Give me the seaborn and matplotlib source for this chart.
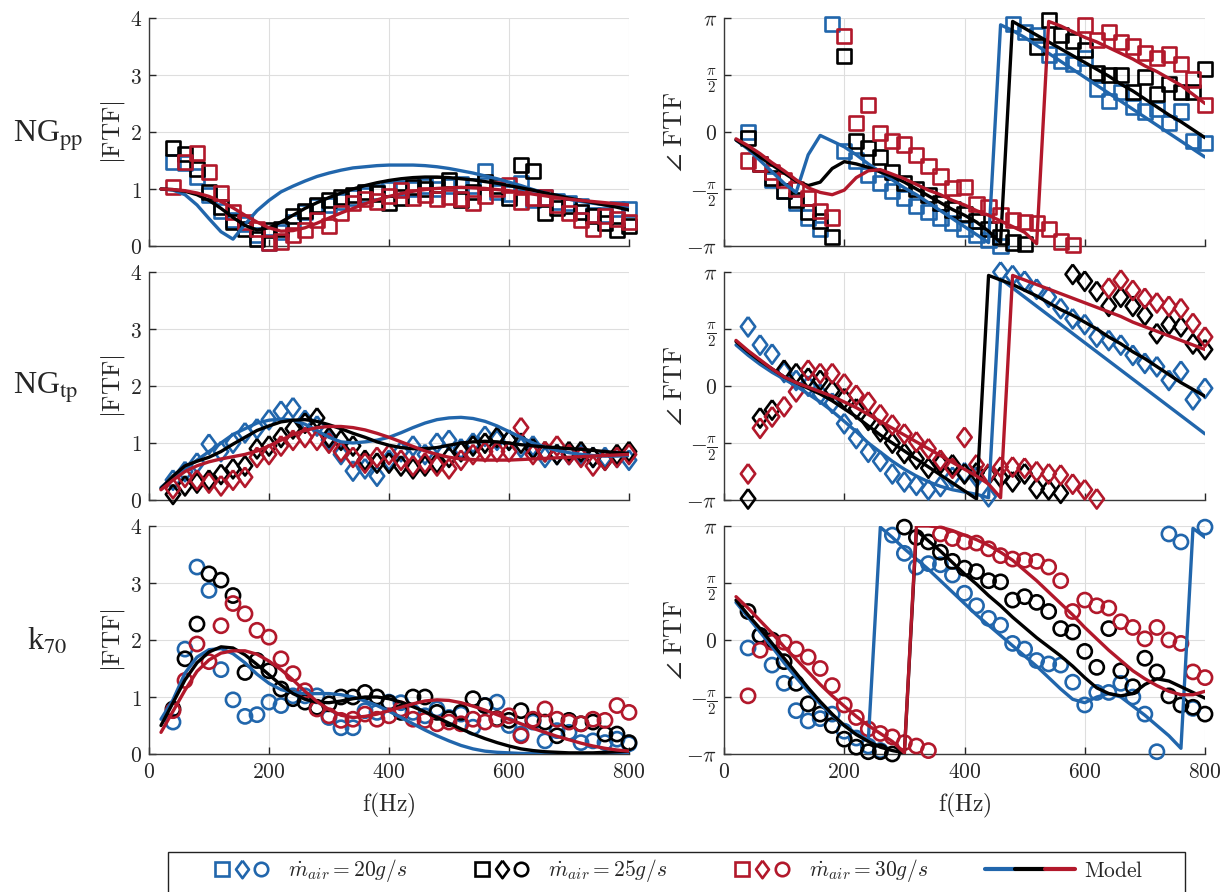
import numpy as np
import matplotlib
matplotlib.use("Agg")
import matplotlib.pyplot as plt
import seaborn as sns
from matplotlib.lines import Line2D
from matplotlib.patches import Rectangle
from matplotlib.legend_handler import HandlerTuple

# ---------------- data ----------------
FREQ_DATA = [40, 60, 80, 100, 120, 140, 160, 180, 200, 220,
             240, 260, 280, 300, 320, 340, 360, 380, 400, 420,
             440, 460, 480, 500, 520, 540, 560, 580, 600, 620,
             640, 660, 680, 700, 720, 740, 760, 780, 800]
FREQ_MODEL = [20, 40, 60, 80, 100, 120, 140, 160, 180, 200,
              220, 240, 260, 280, 300, 320, 340, 360, 380, 400,
              420, 440, 460, 480, 500, 520, 540, 560, 580, 600,
              620, 640, 660, 680, 700, 720, 740, 760, 780, 800]

ROW_LABELS = ["NG$_{\\mathrm{pp}}$", "NG$_{\\mathrm{tp}}$", "k$_{70}$"]
LEGEND_LABELS = [r"$\dot{m}_{air}=20g/s$", r"$\dot{m}_{air}=25g/s$",
                 r"$\dot{m}_{air}=30g/s$"]
MODEL_LABEL = r"$\mathrm{Model}$"
X_TICKS = [0, 200, 400, 600, 800]
MAG_TICKS = [0, 1, 2, 3, 4]
PHASE_TICK_FRAC = [-1, -0.5, 0, 0.5, 1]
PHASE_TICK_LABELS = [r"$-\pi$", r"$-\frac{\pi}{2}$", r"$0$", r"$\frac{\pi}{2}$", r"$\pi$"]

# NG_pp magnitude (squares)
pp_mag_20 = [1.47, 1.45, 1.22, 0.90, 0.62, 0.45, 0.38, 0.20, 0.06, 0.25,
             0.42, 0.60, 0.70, 0.72, 0.78, 0.85, 0.90, 0.95, 1.00, 1.02,
             1.00, 1.05, 1.00, 1.05, 1.08, 1.05, 1.32, 0.95, 0.92, 1.10,
             0.80, 0.85, 0.78, 0.75, 0.70, 0.55, 0.55, 0.65, 0.65]
pp_mag_25 = [1.72, 1.62, 1.35, 0.95, 0.68, 0.42, 0.30, 0.12, 0.28, 0.30,
             0.52, 0.62, 0.72, 0.80, 0.86, 0.90, 0.95, 0.92, 0.75, 0.85,
             1.04, 1.00, 1.08, 1.16, 0.80, 0.95, 1.13, 1.05, 0.84, 1.42,
             1.32, 0.58, 0.66, 0.70, 0.60, 0.52, 0.40, 0.28, 0.35]
pp_mag_30 = [1.04, 1.48, 1.63, 1.30, 0.93, 0.60, 0.42, 0.30, 0.05, 0.08,
             0.20, 0.28, 0.45, 0.35, 0.58, 0.75, 0.82, 0.78, 0.88, 0.98,
             0.85, 0.90, 0.82, 0.86, 0.83, 0.75, 0.88, 1.00, 1.07, 0.78,
             0.85, 0.85, 0.72, 0.58, 0.45, 0.30, 0.52, 0.48, 0.42]
pp_mag_model_20 = [1.00, 0.98, 0.90, 0.72, 0.48, 0.25, 0.12, 0.38, 0.62, 0.80,
                   0.95, 1.05, 1.14, 1.22, 1.28, 1.33, 1.37, 1.39, 1.41, 1.42,
                   1.42, 1.42, 1.41, 1.39, 1.36, 1.32, 1.28, 1.23, 1.18, 1.12,
                   1.06, 0.99, 0.93, 0.87, 0.82, 0.78, 0.75, 0.72, 0.70, 0.68]
pp_mag_model_25 = [1.00, 0.99, 0.96, 0.90, 0.80, 0.66, 0.50, 0.36, 0.28, 0.32,
                   0.42, 0.54, 0.66, 0.76, 0.85, 0.93, 1.00, 1.06, 1.11, 1.15,
                   1.18, 1.20, 1.21, 1.21, 1.20, 1.18, 1.16, 1.13, 1.10, 1.06,
                   1.02, 0.98, 0.93, 0.89, 0.84, 0.80, 0.76, 0.72, 0.68, 0.63]
pp_mag_model_30 = [1.00, 0.99, 0.97, 0.93, 0.87, 0.78, 0.67, 0.54, 0.42, 0.32,
                   0.26, 0.27, 0.32, 0.40, 0.49, 0.58, 0.66, 0.74, 0.81, 0.87,
                   0.92, 0.96, 0.99, 1.01, 1.02, 1.03, 1.02, 1.01, 0.99, 0.97,
                   0.94, 0.91, 0.88, 0.85, 0.82, 0.80, 0.78, 0.76, 0.74, 0.72]

# NG_pp phase (fractions of pi)
pp_ph_20 = [0.00, -0.28, -0.42, -0.52, -0.62, -0.75, -0.85, 0.95, -0.17, -0.25,
            -0.38, -0.45, -0.52, -0.58, -0.65, -0.70, -0.75, -0.80, -0.85, -0.90,
            -0.95, -1.00, 0.95, 0.88, 0.85, 0.68, 0.62, 0.60, 0.65, 0.38,
            0.27, 0.35, 0.22, 0.18, 0.20, 0.08, 0.18, -0.08, -0.10]
pp_ph_25 = [-0.05, -0.28, -0.40, -0.52, -0.60, -0.70, -0.78, -0.92, 0.67, -0.08,
            -0.14, -0.22, -0.35, -0.45, -0.50, -0.55, -0.62, -0.68, -0.72, -0.78,
            -0.85, -0.92, -0.97, -0.98, 0.75, 0.98, 0.85, 0.80, 0.72, 0.52,
            0.50, 0.50, 0.35, 0.48, 0.33, 0.42, 0.35, 0.35, 0.55]
pp_ph_30 = [-0.25, -0.28, -0.35, -0.42, -0.50, -0.58, -0.69, -0.75, 0.84, 0.08,
            0.24, -0.01, -0.08, -0.11, -0.20, -0.30, -0.39, -0.49, -0.48, -0.63,
            -0.66, -0.73, -0.77, -0.79, -0.80, -0.85, -0.96, -0.99, 0.94, 0.81,
            0.88, 0.79, 0.75, 0.69, 0.65, 0.68, 0.60, 0.46, 0.24]
pp_ph_model_20 = [-0.07, -0.15, -0.25, -0.35, -0.45, -0.53, -0.20, -0.03, -0.08, -0.13,
                  -0.20, -0.28, -0.35, -0.42, -0.49, -0.55, -0.62, -0.69, -0.76, -0.83,
                  -0.90, -0.97, 0.94, 0.89, 0.83, 0.76, 0.69, 0.62, 0.55, 0.48,
                  0.41, 0.34, 0.27, 0.20, 0.13, 0.06, -0.01, -0.08, -0.15, -0.22]
pp_ph_model_25 = [-0.07, -0.14, -0.22, -0.29, -0.36, -0.43, -0.47, -0.44, -0.32, -0.26,
                  -0.28, -0.31, -0.35, -0.39, -0.44, -0.50, -0.56, -0.62, -0.68, -0.73,
                  -0.79, -0.87, -0.97, 0.97, 0.91, 0.85, 0.79, 0.73, 0.67, 0.61,
                  0.55, 0.49, 0.42, 0.36, 0.29, 0.22, 0.15, 0.09, 0.02, -0.05]
pp_ph_model_30 = [-0.06, -0.12, -0.19, -0.27, -0.34, -0.42, -0.49, -0.53, -0.55, -0.51,
                  -0.40, -0.34, -0.33, -0.37, -0.41, -0.46, -0.51, -0.55, -0.60, -0.64,
                  -0.69, -0.73, -0.78, -0.83, -0.88, -0.98, 0.97, 0.93, 0.88, 0.83,
                  0.79, 0.74, 0.69, 0.64, 0.58, 0.53, 0.47, 0.41, 0.33, 0.25]

# NG_tp magnitude (diamonds)
tp_mag_20 = [0.35, 0.50, 0.65, 0.98, 0.85, 1.00, 1.18, 1.25, 1.41, 1.56,
             1.62, 1.40, 1.30, 1.05, 0.80, 0.51, 0.55, 0.42, 0.70, 0.85,
             0.95, 0.80, 1.00, 1.05, 0.90, 1.00, 1.12, 1.05, 1.05, 0.92,
             0.95, 0.75, 0.80, 0.80, 0.80, 0.75, 0.75, 0.75, 0.70]
tp_mag_25 = [0.10, 0.25, 0.30, 0.35, 0.45, 0.55, 0.60, 0.90, 0.95, 1.10,
             1.25, 1.35, 1.44, 1.10, 1.05, 0.95, 0.70, 0.65, 0.65, 0.60,
             0.55, 0.60, 0.65, 0.75, 0.85, 0.95, 1.00, 1.10, 1.05, 1.00,
             0.90, 0.85, 0.80, 0.85, 0.85, 0.75, 0.70, 0.80, 0.85]
tp_mag_30 = [0.20, 0.40, 0.35, 0.30, 0.25, 0.35, 0.40, 0.75, 0.80, 0.95,
             1.05, 1.10, 1.05, 1.00, 0.85, 0.75, 0.65, 0.75, 0.80, 0.70,
             0.60, 0.65, 0.60, 0.55, 0.70, 0.80, 0.85, 0.85, 0.85, 1.27,
             0.80, 0.85, 0.95, 0.80, 0.75, 0.60, 0.70, 0.75, 0.80]
tp_mag_model_20 = [0.22, 0.40, 0.55, 0.70, 0.85, 1.00, 1.15, 1.25, 1.35, 1.40,
                   1.42, 1.40, 1.33, 1.22, 1.10, 1.02, 1.00, 1.02, 1.05, 1.10,
                   1.18, 1.27, 1.35, 1.41, 1.44, 1.45, 1.43, 1.38, 1.30, 1.20,
                   1.10, 1.00, 0.93, 0.87, 0.83, 0.80, 0.78, 0.77, 0.77, 0.78]
tp_mag_model_25 = [0.20, 0.42, 0.60, 0.68, 0.75, 0.85, 0.98, 1.10, 1.22, 1.30,
                   1.37, 1.40, 1.41, 1.38, 1.32, 1.25, 1.17, 1.10, 1.02, 0.96,
                   0.92, 0.90, 0.90, 0.92, 0.96, 1.00, 1.02, 1.03, 1.02, 1.00,
                   0.97, 0.95, 0.93, 0.92, 0.90, 0.89, 0.87, 0.85, 0.83, 0.82]
tp_mag_model_30 = [0.18, 0.35, 0.50, 0.60, 0.67, 0.72, 0.76, 0.80, 0.86, 0.95,
                   1.05, 1.15, 1.22, 1.27, 1.29, 1.29, 1.27, 1.23, 1.17, 1.10,
                   1.02, 0.94, 0.86, 0.80, 0.75, 0.72, 0.71, 0.70, 0.70, 0.70,
                   0.71, 0.72, 0.73, 0.74, 0.75, 0.76, 0.77, 0.78, 0.79, 0.80]

# NG_tp phase (fractions of pi)
tp_ph_20 = [0.52, 0.36, 0.28, 0.12, 0.05, 0.00, -0.07, -0.15, -0.33, -0.46,
            -0.58, -0.66, -0.77, -0.84, -0.87, -0.91, -0.88, -0.80, -0.76, -0.80,
            -0.97, 1.00, 0.97, 0.92, 0.85, 0.78, 0.68, 0.59, 0.54, 0.43,
            0.40, 0.36, 0.27, 0.20, 0.17, 0.05, 0.13, -0.12, -0.02]
tp_ph_25 = [-0.99, -0.28, -0.21, 0.14, 0.11, 0.07, 0.05, -0.04, -0.11, -0.20,
            -0.30, -0.40, -0.50, -0.59, -0.64, -0.72, -0.68, -0.69, -0.77, -0.76,
            -0.78, -0.80, -0.84, -0.77, -0.90, -0.91, -0.94, 0.98, 0.92, 0.83,
            0.70, 0.78, 0.70, 0.62, 0.46, 0.54, 0.52, 0.37, 0.32]
tp_ph_30 = [-0.77, -0.37, -0.27, -0.18, -0.05, 0.14, 0.11, 0.11, 0.02, -0.08,
            -0.14, -0.25, -0.34, -0.42, -0.49, -0.55, -0.65, -0.72, -0.45, -0.69,
            -0.77, -0.71, -0.71, -0.72, -0.75, -0.77, -0.78, -0.86, -0.91, -0.99,
            0.86, 0.93, 0.84, 0.77, 0.73, 0.70, 0.68, 0.55, 0.43]
tp_ph_model_20 = [0.36, 0.27, 0.19, 0.12, 0.06, 0.00, -0.07, -0.14, -0.22, -0.31,
                  -0.40, -0.50, -0.58, -0.66, -0.73, -0.79, -0.84, -0.88, -0.91, -0.93,
                  -0.95, -0.98, 0.94, 0.86, 0.78, 0.70, 0.62, 0.54, 0.46, 0.38,
                  0.30, 0.22, 0.14, 0.06, -0.02, -0.10, -0.18, -0.26, -0.34, -0.42]
tp_ph_model_25 = [0.39, 0.30, 0.22, 0.15, 0.08, 0.03, -0.02, -0.07, -0.13, -0.20,
                  -0.27, -0.35, -0.43, -0.50, -0.57, -0.64, -0.71, -0.78, -0.85, -0.92,
                  -0.99, 0.97, 0.93, 0.89, 0.84, 0.79, 0.73, 0.67, 0.62, 0.56,
                  0.50, 0.43, 0.37, 0.30, 0.24, 0.17, 0.10, 0.03, -0.03, -0.09]
tp_ph_model_30 = [0.40, 0.31, 0.23, 0.15, 0.08, 0.03, -0.01, -0.05, -0.09, -0.14,
                  -0.19, -0.25, -0.31, -0.37, -0.43, -0.49, -0.55, -0.61, -0.67, -0.73,
                  -0.79, -0.86, -0.98, 0.97, 0.93, 0.89, 0.85, 0.81, 0.77, 0.73,
                  0.69, 0.65, 0.61, 0.56, 0.52, 0.48, 0.44, 0.40, 0.36, 0.32]

# k70 magnitude (circles)
k_mag_20 = [0.56, 1.84, 3.28, 2.87, 1.48, 0.95, 0.66, 0.69, 0.91, 0.85,
            1.02, 1.02, 1.02, 0.64, 0.46, 0.46, 0.76, 0.73, 0.91, 0.90,
            0.73, 0.67, 0.79, 0.64, 0.70, 0.47, 0.85, 0.91, 0.50, 0.35,
            0.56, 0.23, 0.41, 0.38, 0.20, 0.23, 0.20, 0.26, 0.18]
k_mag_25 = [0.79, 1.67, 2.28, 3.16, 3.05, 2.78, 1.43, 1.64, 1.46, 1.14,
            0.97, 0.91, 0.82, 0.88, 1.00, 1.00, 1.08, 1.00, 0.90, 0.73,
            1.00, 1.00, 0.73, 0.62, 0.73, 0.97, 0.85, 0.62, 0.59, 0.76,
            0.59, 0.56, 0.32, 0.59, 0.53, 0.56, 0.35, 0.35, 0.20]
k_mag_30 = [0.76, 1.29, 1.93, 1.62, 2.25, 2.64, 2.46, 2.17, 2.05, 1.67,
            1.41, 1.11, 0.79, 0.67, 0.59, 0.61, 0.70, 0.61, 0.67, 0.79,
            0.61, 0.59, 0.53, 0.56, 0.53, 0.61, 0.56, 0.61, 0.67, 0.32,
            0.61, 0.79, 0.61, 0.56, 0.53, 0.61, 0.59, 0.85, 0.73]
k_mag_model_20 = [0.61, 0.95, 1.42, 1.70, 1.83, 1.85, 1.76, 1.60, 1.40, 1.24,
                  1.13, 1.08, 1.06, 1.06, 1.06, 1.04, 1.00, 0.93, 0.85, 0.75,
                  0.64, 0.53, 0.42, 0.32, 0.23, 0.15, 0.09, 0.05, 0.03, 0.02,
                  0.01, 0.01, 0.00, 0.00, 0.00, 0.00, 0.00, 0.00, 0.00, 0.00]
k_mag_model_25 = [0.50, 0.90, 1.30, 1.60, 1.79, 1.88, 1.86, 1.74, 1.57, 1.39,
                  1.21, 1.06, 0.96, 0.91, 0.90, 0.93, 0.97, 1.00, 1.00, 0.97,
                  0.91, 0.83, 0.74, 0.64, 0.54, 0.44, 0.35, 0.27, 0.20, 0.14,
                  0.09, 0.06, 0.04, 0.03, 0.02, 0.02, 0.02, 0.03, 0.04, 0.05]
k_mag_model_30 = [0.38, 0.75, 1.12, 1.45, 1.65, 1.77, 1.81, 1.81, 1.75, 1.63,
                  1.48, 1.30, 1.10, 0.92, 0.78, 0.68, 0.64, 0.66, 0.70, 0.76,
                  0.82, 0.88, 0.93, 0.95, 0.94, 0.90, 0.84, 0.77, 0.69, 0.61,
                  0.53, 0.45, 0.38, 0.31, 0.25, 0.19, 0.14, 0.10, 0.07, 0.05]

# k70 phase (fractions of pi)
k_ph_20 = [-0.07, 0.04, -0.22, -0.38, -0.62, -0.71, -0.69, -0.65, -0.80, -0.86,
           -0.93, -0.97, 0.92, 0.76, 0.64, 0.67, 0.66, 0.57, 0.41, 0.30,
           0.19, 0.13, -0.03, -0.08, -0.18, -0.21, -0.22, -0.37, -0.57, -0.46,
           -0.46, -0.38, -0.50, -0.65, -0.98, 0.93, 0.86, -0.60, 0.99]
k_ph_25 = [0.25, 0.04, 0.00, -0.19, -0.38, -0.56, -0.65, -0.75, -0.87, -0.94,
           -0.98, -0.98, -1.00, 0.99, 0.90, 0.86, 0.77, 0.69, 0.63, 0.60,
           0.52, 0.51, 0.35, 0.38, 0.33, 0.25, 0.10, 0.07, -0.10, -0.24,
           0.10, -0.27, -0.41, -0.16, -0.28, -0.49, -0.57, -0.59, -0.65]
k_ph_30 = [-0.49, -0.09, -0.02, -0.02, -0.08, -0.15, -0.25, -0.40, -0.57, -0.68,
           -0.78, -0.82, -0.85, -0.90, -0.93, -0.97, 0.93, 0.89, 0.86, 0.85,
           0.80, 0.74, 0.71, 0.70, 0.69, 0.64, 0.52, 0.25, 0.35, 0.30,
           0.28, 0.16, 0.11, 0.01, 0.11, 0.00, -0.03, -0.28, -0.33]
k_ph_model_20 = [0.33, 0.20, 0.07, -0.06, -0.20, -0.33, -0.45, -0.56, -0.66, -0.75,
                 -0.82, -0.88, 0.99, 0.90, 0.80, 0.71, 0.62, 0.52, 0.42, 0.32,
                 0.22, 0.13, 0.04, -0.05, -0.14, -0.23, -0.33, -0.43, -0.52, -0.55,
                 -0.50, -0.47, -0.50, -0.58, -0.66, -0.75, -0.84, -0.95, 0.98, 0.90]
k_ph_model_25 = [0.35, 0.22, 0.10, -0.03, -0.16, -0.29, -0.42, -0.54, -0.65, -0.75,
                 -0.83, -0.89, -0.94, -0.97, -0.99, 0.96, 0.87, 0.78, 0.68, 0.58,
                 0.49, 0.39, 0.30, 0.20, 0.11, 0.02, -0.06, -0.14, -0.23, -0.33,
                 -0.42, -0.47, -0.49, -0.47, -0.39, -0.34, -0.36, -0.41, -0.46, -0.51]
k_ph_model_30 = [0.38, 0.28, 0.17, 0.06, -0.06, -0.17, -0.28, -0.39, -0.49, -0.58,
                 -0.67, -0.75, -0.82, -0.89, -0.99, 1.00, 1.00, 0.99, 0.96, 0.92,
                 0.88, 0.83, 0.77, 0.70, 0.61, 0.52, 0.42, 0.32, 0.22, 0.11,
                 0.01, -0.09, -0.18, -0.27, -0.34, -0.40, -0.45, -0.48, -0.48, -0.45]

# ---------------- style ----------------
sns.set_theme(style="white")
plt.rcParams["font.family"] = ["DejaVu Serif"]
plt.rcParams["mathtext.fontset"] = "cm"

BLUE, BLACK, RED = "#2166ac", "#000000", "#b2182b"
COLORS = [BLUE, BLACK, RED]
DIAMOND = [(0, 1), (0.74, 0), (0, -1), (-0.74, 0), (0, 1)]
MARKERS = ["s", DIAMOND, "o"]
MSIZE = {0: 10.2, 1: 14.0, 2: 10.2}
MEW = 1.9
LW = 2.4

W, H = 1228, 892
fig = plt.figure(figsize=(W / 100, H / 100), dpi=100)

LEFTS = [149, 724]
WIDTHS = [480, 481]
TOPS = [18, 272, 526]
AX_H = 228

rows = [
    ((pp_mag_20, pp_mag_25, pp_mag_30), (pp_mag_model_20, pp_mag_model_25, pp_mag_model_30),
     (pp_ph_20, pp_ph_25, pp_ph_30), (pp_ph_model_20, pp_ph_model_25, pp_ph_model_30)),
    ((tp_mag_20, tp_mag_25, tp_mag_30), (tp_mag_model_20, tp_mag_model_25, tp_mag_model_30),
     (tp_ph_20, tp_ph_25, tp_ph_30), (tp_ph_model_20, tp_ph_model_25, tp_ph_model_30)),
    ((k_mag_20, k_mag_25, k_mag_30), (k_mag_model_20, k_mag_model_25, k_mag_model_30),
     (k_ph_20, k_ph_25, k_ph_30), (k_ph_model_20, k_ph_model_25, k_ph_model_30)),
]


def style_axes(ax, phase, bottom):
    ax.set_xlim(0, 800)
    ax.set_xticks(X_TICKS)
    if bottom:
        ax.set_xticklabels([f"${t}$" for t in X_TICKS])
        ax.set_xlabel(r"$\mathrm{f(Hz)}$", fontsize=17, labelpad=6)
    else:
        ax.set_xticklabels([])
        ax.set_xlabel("")
    if phase:
        ax.set_ylim(-np.pi, np.pi)
        ax.set_yticks([t * np.pi for t in PHASE_TICK_FRAC])
        ax.set_yticklabels(PHASE_TICK_LABELS)
        ax.set_ylabel(r"$\angle\ \mathrm{FTF}$", fontsize=19, labelpad=-1)
    else:
        ax.set_ylim(0, 4)
        ax.set_yticks(MAG_TICKS)
        ax.set_yticklabels([f"${t}$" for t in MAG_TICKS])
        ax.set_ylabel(r"$|\mathrm{FTF}|$", fontsize=18, labelpad=2)
    ax.grid(True, color="#dedede", linewidth=0.8)
    ax.set_axisbelow(True)
    for s in ["top", "right"]:
        ax.spines[s].set_visible(False)
    for s in ["left", "bottom"]:
        ax.spines[s].set_color("#3a3a3a")
        ax.spines[s].set_linewidth(1.0)
    ax.tick_params(direction="in", length=5, width=1, colors="#262626",
                   labelsize=15.5, pad=5, left=True, bottom=True, top=False, right=False)


for r, (mdata, mmodel, pdata, pmodel) in enumerate(rows):
    for c in range(2):
        ax = fig.add_axes([LEFTS[c] / W, 1 - (TOPS[r] + AX_H) / H, WIDTHS[c] / W, AX_H / H])
        phase = c == 1
        scale = np.pi if phase else 1.0
        datas = pdata if phase else mdata
        models = pmodel if phase else mmodel
        for vals, col in zip(datas, COLORS):
            sns.scatterplot(x=FREQ_DATA, y=np.array(vals) * scale, ax=ax,
                            marker=MARKERS[r], s=MSIZE[r] ** 2, color=col,
                            facecolor="none", edgecolor=col, linewidth=MEW,
                            clip_on=False, zorder=3, legend=False)
        for vals, col in zip(models, COLORS):
            sns.lineplot(x=FREQ_MODEL, y=np.array(vals) * scale, ax=ax, color=col,
                         linewidth=LW, zorder=4, legend=False, errorbar=None)
        style_axes(ax, phase, r == 2)

# row labels
ROW_Y = [136, 388, 642]
ROW_X = [13, 13, 27]
for lab, y, x in zip(ROW_LABELS, ROW_Y, ROW_X):
    fig.text(x / W, 1 - y / H, lab, fontsize=23, family="Liberation Serif",
             math_fontfamily="stix", ha="left", va="center")

# legend frame (box runs off the bottom edge as in the reference)
box = Rectangle((168 / W, -0.02), (1185 - 168) / W, (892 - 852) / H + 0.02,
                transform=fig.transFigure, facecolor="white", edgecolor="#222222",
                linewidth=1.0, zorder=1)
fig.add_artist(box)

LEG_Y = 1 - 871 / H
handles = []
for col in COLORS:
    handles.append(tuple(
        Line2D([], [], marker=MARKERS[i], ls="none", mfc="none", mec=col,
               mew=MEW, ms=MSIZE[i] * (0.95 if i != 1 else 0.9)) for i in range(3)))
leg1 = fig.legend(handles, LEGEND_LABELS,
                  handler_map={tuple: HandlerTuple(ndivide=None, pad=0.12)},
                  ncol=3, loc="center left", bbox_to_anchor=(213 / W, LEG_Y),
                  frameon=False, fontsize=15.5, handlelength=2.65,
                  handletextpad=0.85, columnspacing=3.05, borderpad=0, borderaxespad=0)
leg1.set_zorder(5)

model_handle = tuple(Line2D([], [], color=col, lw=3) for col in COLORS)
leg2 = fig.legend([model_handle], [MODEL_LABEL],
                  handler_map={tuple: HandlerTuple(ndivide=None, pad=0.0)},
                  loc="center left", bbox_to_anchor=(985 / W, LEG_Y),
                  frameon=False, fontsize=15.5, handlelength=4.2,
                  handletextpad=0.4, borderpad=0, borderaxespad=0)
leg2.set_zorder(5)

fig.savefig("out.png", dpi=100)
